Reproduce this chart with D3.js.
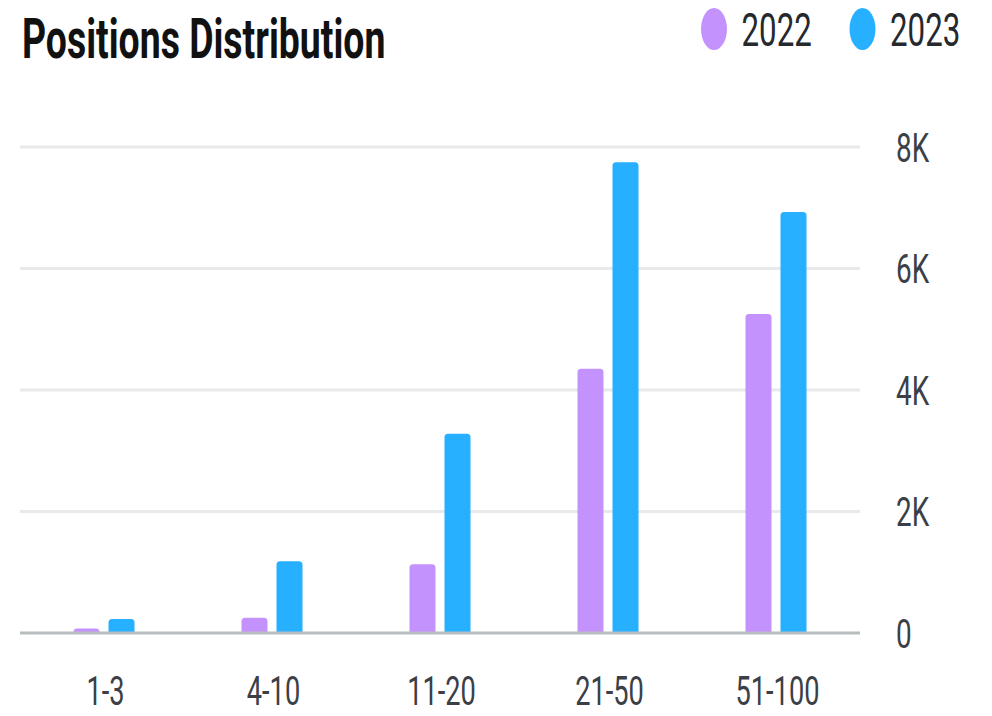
<!DOCTYPE html>
<html>
<head>
<meta charset="utf-8">
<script src="https://cdn.jsdelivr.net/npm/d3@7"></script>
<style>
  html, body { margin: 0; padding: 0; background: #ffffff; }
  svg { display: block; }
  text { font-family: Roboto, "Noto Sans", sans-serif; }
</style>
</head>
<body>
<script>
// ---- data ----
const categories = ["1-3", "4-10", "11-20", "21-50", "51-100"];
const seriesNames = ["2022", "2023"];
const values2022 = [75, 250, 1130, 4350, 5250];
const values2023 = [230, 1180, 3280, 7750, 6930];
const yTicks = [0, 2000, 4000, 6000, 8000];
const yTickLabels = ["0", "2K", "4K", "6K", "8K"];
const title = "Positions Distribution";
const colors = ["#c492fc", "#27b0ff"];

// ---- layout ----
const W = 992, H = 716;
const sx = 0.68; // horizontal compression of glyphs in the reference
const plot = { left: 20, right: 860, top: 147, bottom: 633 };

const svg = d3.select("body").append("svg")
  .attr("width", W).attr("height", H);

const x0 = d3.scaleBand().domain(categories).range([plot.left, plot.right]).paddingInner(0).paddingOuter(0);
const groupW = 61;
const x1 = d3.scaleBand().domain(seriesNames).range([0, groupW]).paddingInner(9 / 35).paddingOuter(0);
const y = d3.scaleLinear().domain([0, 8000]).range([plot.bottom, plot.top]);
const color = d3.scaleOrdinal().domain(seriesNames).range(colors);

const rows = categories.map((c, i) => ({ cat: c, vals: [
  { key: seriesNames[0], value: values2022[i] },
  { key: seriesNames[1], value: values2023[i] }
]}));

// gridlines
svg.append("g").selectAll("line")
  .data(yTicks.filter(d => d !== 0))
  .join("line")
  .attr("x1", plot.left).attr("x2", plot.right)
  .attr("y1", d => y(d)).attr("y2", d => y(d))
  .attr("stroke", "#e7e9ea").attr("stroke-width", 3);

// bars with rounded top corners
function barPath(x, yTop, w, yBase, r) {
  const h = yBase - yTop;
  r = Math.min(r, h, w / 2);
  return `M${x},${yBase}V${yTop + r}Q${x},${yTop} ${x + r},${yTop}H${x + w - r}Q${x + w},${yTop} ${x + w},${yTop + r}V${yBase}Z`;
}

svg.append("g").selectAll("g")
  .data(rows)
  .join("g")
  .attr("transform", d => `translate(${x0(d.cat) + x0.bandwidth() / 2 - groupW / 2},0)`)
  .selectAll("path")
  .data(d => d.vals)
  .join("path")
  .attr("d", d => barPath(x1(d.key), y(d.value), x1.bandwidth(), y(0), 3.5))
  .attr("fill", d => color(d.key));

// baseline
svg.append("line")
  .attr("x1", plot.left).attr("x2", plot.right)
  .attr("y1", y(0)).attr("y2", y(0))
  .attr("stroke", "#b8bdc0").attr("stroke-width", 3);

// y-axis labels (right side)
const yAxisG = svg.append("g");
yAxisG.selectAll("g")
  .data(yTicks)
  .join("g")
  .attr("transform", (d, i) => `translate(896,${y(d) + 14.5}) scale(${sx},1)`)
  .append("text")
  .attr("font-size", 41)
  .attr("fill", "#3b4047")
  .text((d, i) => yTickLabels[i]);

// x-axis labels
svg.append("g").selectAll("g")
  .data(categories)
  .join("g")
  .attr("transform", d => `translate(${x0(d) + x0.bandwidth() / 2 + 1.5},705) scale(${sx},1)`)
  .append("text")
  .attr("text-anchor", "middle")
  .attr("font-size", 40)
  .attr("fill", "#3b4047")
  .text(d => d);

// title
svg.append("g")
  .attr("transform", `translate(22,57.5) scale(${sx},1)`)
  .append("text")
  .attr("font-size", 55)
  .attr("font-weight", 700)
  .attr("fill", "#111111")
  .text(title);

// legend
const legendX = [714, 862.5];
const legend = svg.append("g").selectAll("g")
  .data(seriesNames)
  .join("g")
  .attr("transform", (d, i) => `translate(${legendX[i]},29)`);
legend.append("ellipse")
  .attr("rx", 13).attr("ry", 21)
  .attr("fill", d => color(d));
legend.append("g")
  .attr("transform", `translate(27.5,16.5) scale(${sx},1)`)
  .append("text")
  .attr("font-size", 46)
  .attr("fill", "#25282c")
  .text(d => d);
</script>
</body>
</html>
